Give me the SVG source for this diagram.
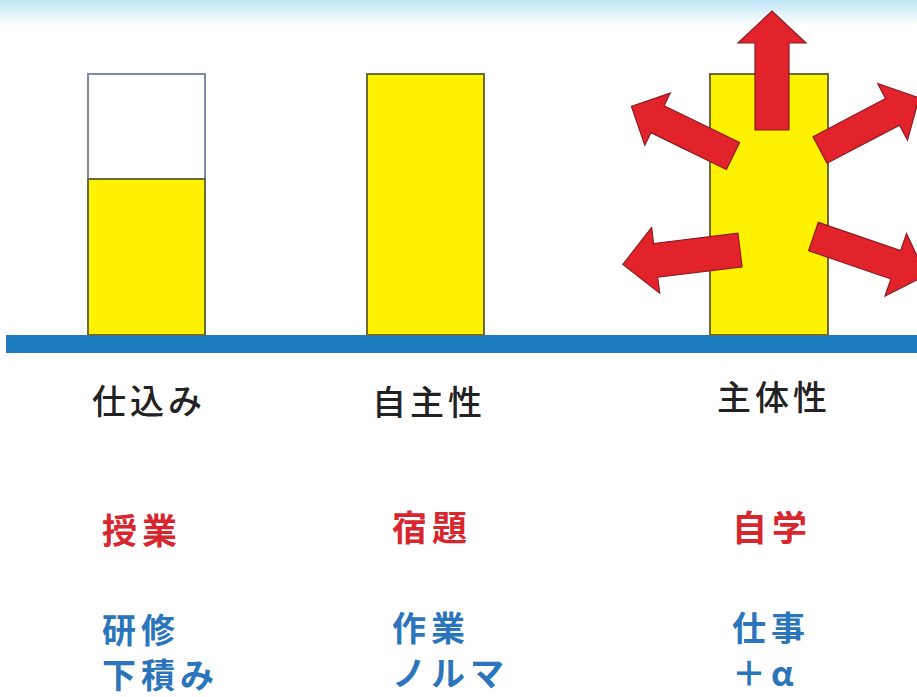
<svg xmlns="http://www.w3.org/2000/svg" width="917" height="697" viewBox="0 0 917 697">
<defs>
<linearGradient id="sky" x1="0" y1="0" x2="0" y2="1">
<stop offset="0" stop-color="#bfe6f5"/>
<stop offset="1" stop-color="#ffffff"/>
</linearGradient>
</defs>
<style>
.bar{fill:#fff200;stroke:#6b6a3a;stroke-width:2}
.empty{fill:#ffffff;stroke:#7f8aa8;stroke-width:2}
.arrow{fill:#e3232b;stroke:#8c1c20;stroke-width:1.2;stroke-linejoin:miter}
.lbl{font-family:"Noto Sans CJK JP","Noto Sans",sans-serif;font-size:34px;font-weight:500;fill:#222;letter-spacing:4px}
.red{font-family:"Noto Sans CJK JP","Noto Sans",sans-serif;font-size:35px;font-weight:bold;fill:#d8262f;letter-spacing:5px}
.blue{font-family:"Noto Sans CJK JP","Noto Sans",sans-serif;font-size:34px;font-weight:bold;fill:#2a75bb;letter-spacing:5px}
</style>
<rect x="0" y="0" width="917" height="697" fill="#ffffff"/>
<rect x="0" y="0" width="917" height="26" fill="url(#sky)"/>
<rect x="6" y="335" width="911" height="18" fill="#1d7cbf"/>
<g id="bar1">
<rect class="empty" x="88" y="74" width="117" height="105"/>
<rect class="bar" x="88" y="179" width="117" height="156"/>
</g>
<g id="bar2">
<rect class="bar" x="367" y="74" width="117" height="261"/>
</g>
<g id="bar3">
<rect class="bar" x="710" y="74" width="118" height="261"/>
</g>
<g id="arrows">
<path class="arrow" transform="translate(772,130) rotate(-90)" d="M0,-17 L87,-17 L87,-34 L119,0 L87,34 L87,17 L0,17 Z"/>
<path class="arrow" transform="translate(733,156) rotate(206)" d="M0,-15 L84,-15 L84,-29 L113,0 L84,29 L84,15 L0,15 Z"/>
<path class="arrow" transform="translate(820,150) rotate(-27.7)" d="M0,-15 L82,-15 L82,-32 L112,0 L82,32 L82,15 L0,15 Z"/>
<path class="arrow" transform="translate(740,250) rotate(173)" d="M0,-17 L85,-17 L85,-33 L118,0 L85,33 L85,17 L0,17 Z"/>
<path class="arrow" transform="translate(813.5,236.5) rotate(19)" d="M0,-15 L87,-15 L87,-33 L119,0 L87,33 L87,15 L0,15 Z"/>
</g>
<g id="labels">
<text class="lbl" x="92" y="414">仕込み</text>
<text class="lbl" x="372" y="415">自主性</text>
<text class="lbl" x="717" y="410">主体性</text>
</g>
<g id="col1">
<text class="red" x="102" y="544">授業</text>
<text class="blue" x="102" y="643">研修</text>
<text class="blue" x="102" y="688">下積み</text>
</g>
<g id="col2">
<text class="red" x="392" y="541">宿題</text>
<text class="blue" x="392" y="641">作業</text>
<text class="blue" x="392" y="686">ノルマ</text>
</g>
<g id="col3">
<text class="red" x="732" y="541">自学</text>
<text class="blue" x="732" y="641">仕事</text>
<text class="blue" x="732" y="686">＋α</text>
</g>
</svg>
